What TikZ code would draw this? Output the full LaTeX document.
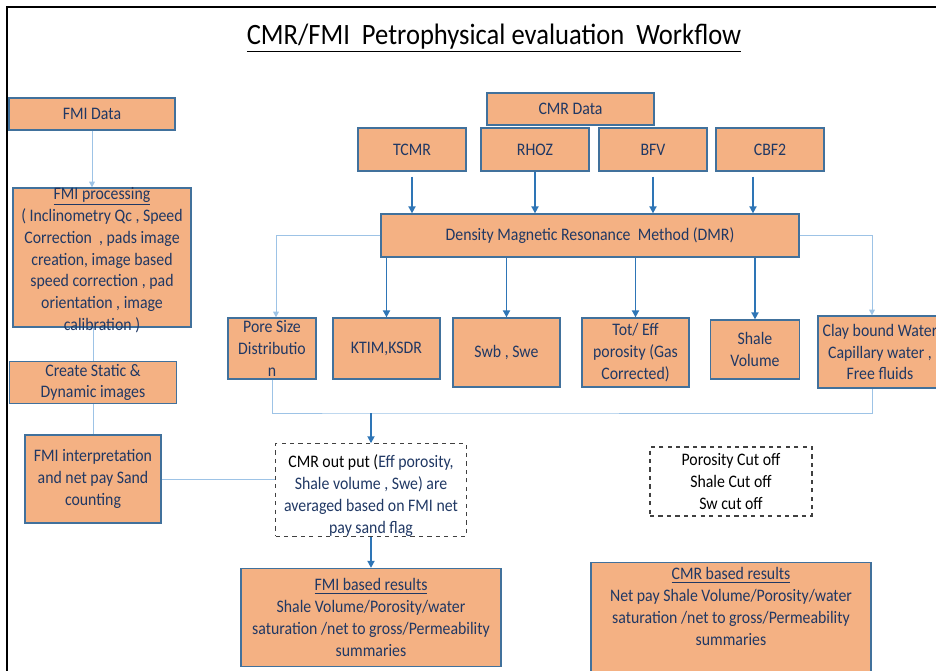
\documentclass[tikz,border=0pt]{standalone}
\usepackage{fontspec}
\setmainfont{Carlito}[FakeStretch=0.9]
\usetikzlibrary{arrows.meta}
\definecolor{boxfill}{RGB}{244,177,131}
\definecolor{boxline}{RGB}{65,113,156}
\definecolor{navytext}{RGB}{32,56,100}
\definecolor{linkblue}{RGB}{157,195,230}
\definecolor{flowblue}{RGB}{46,117,182}

\begin{document}
\begin{tikzpicture}[x=0.025cm, y=-0.025cm,
    boxsize/.style 2 args={minimum width=#1*0.025cm, minimum height=#2*0.025cm},
    box/.style={draw=boxline, fill=boxfill, line width=0.9pt, text=navytext, align=center,
        inner sep=0pt, font=\fontsize{12.5}{15.5}\selectfont},
    cutbox/.style={draw=black!75, dashed, line width=0.8pt, align=center, inner sep=0pt,
        text=navytext, font=\fontsize{12.5}{15.5}\selectfont},
    boxtext/.style={align=center, inner sep=0pt, text=navytext, font=\fontsize{12.5}{15.5}\selectfont},
    link/.style={draw=linkblue, line width=0.7pt},
    linkarrow/.style={link, -{Triangle[length=4pt,width=4pt]}},
    flow/.style={draw=flowblue, line width=1.3pt, -{Triangle[length=5pt,width=5pt]}}]

    \clip (0,0) rectangle (936,671);

    % Draw the frame and the title
    \draw[line width=1.5pt] (7,671) -- (7,7) -- (936,7);
    \node (title) at (494,38) {\fontsize{21}{25}\selectfont\underline{CMR/FMI\ \ Petrophysical evaluation\ \ Workflow}};

    % FMI column
    \node[box, boxsize={166}{32}] (fmidata) at (92,114) {FMI Data};
    \node[box, boxsize={178}{139}] (fmiproc) at (102,257.5) {};
    \node[boxtext, anchor=north] (fmiproctext) at (fmiproc.north) {\underline{FMI processing}\\( Inclinometry Qc , Speed\\Correction\ \ , pads image\\creation, image based\\speed correction , pad\\orientation , image\\calibration )};
    \node[box, boxsize={167}{42}] (createimg) at (93,382.5) {Create Static \&\\Dynamic images};
    \node[box, boxsize={136}{88}] (fmiinterp) at (93,479) {FMI interpretation\\and net pay Sand\\counting};

    % CMR data and its curves
    \node[box, boxsize={167}{32}] (cmrdata) at (570.5,109) {CMR Data};
    \node[box, boxsize={108}{43}] (tcmr) at (412,149.5) {TCMR};
    \node[box, boxsize={108}{43}] (rhoz) at (535,149.5) {RHOZ};
    \node[box, boxsize={108}{43}] (bfv) at (653,149.5) {BFV};
    \node[box, boxsize={108}{43}] (cbf2) at (770,149.5) {CBF2};
    \node[box, boxsize={418}{43}] (dmr) at (590,235.5) {Density Magnetic Resonance\ \ Method (DMR)};

    % DMR outputs
    \node[box, boxsize={88}{61}] (poresize) at (272,348.5) {Pore Size\\Distributio\\n};
    \node[box, boxsize={107}{61}] (ktim) at (386.5,348.5) {KTIM,KSDR};
    \node[box, boxsize={107}{69}] (swb) at (506.5,352.5) {Swb , Swe};
    \node[box, boxsize={107}{69}] (toteff) at (635.5,352.5) {Tot/ Eff\\porosity (Gas\\Corrected)};
    \node[box, boxsize={89}{59}] (shale) at (755,349.5) {Shale\\Volume};
    \node[box, boxsize={124}{72}] (clay) at (880,352) {Clay bound Water\\Capillary water ,\\Free fluids};

    % Averaging, cut offs and results
    \node[cutbox, boxsize={191}{88}] (cmrout) at (371,490) {\rule{0pt}{17pt}{\color{black}CMR out put (}Eff porosity,\\Shale volume , Swe) are\\averaged based on FMI net\\pay sand flag};
    \node[cutbox, boxsize={162}{69}, text=black] (cutoff) at (731,481.5) {Porosity Cut off\\Shale Cut off\\Sw cut off};
    \node[box, boxsize={260}{98}] (fmires) at (371,617.5) {\underline{FMI based results}\\Shale Volume/Porosity/water\\saturation /net to gross/Permeability\\summaries};
    \node[box, boxsize={280}{115}] (cmrres) at (731,620) {};
    \node[boxtext, anchor=north, yshift=-4pt] (cmrrestext) at (cmrres.north) {\underline{CMR based results}\\Net pay Shale Volume/Porosity/water\\saturation /net to gross/Permeability\\summaries};

    % Draw the FMI links
    \draw[linkarrow] (fmidata.south) -- (fmidata.south |- fmiproc.north);
    \draw[link] (createimg.north |- fmiproc.south) -- (createimg.north);
    \draw[link] (createimg.south) -- (fmiinterp.north);
    \draw[link] (fmiinterp.east) -- (fmiinterp.east -| cmrout.west);

    % Draw the CMR arrows
    \draw[flow, shorten <=3.5pt] (tcmr.south) -- (tcmr.south |- dmr.north);
    \draw[flow] (rhoz.south) -- (rhoz.south |- dmr.north);
    \draw[flow, shorten <=3.5pt] (bfv.south) -- (bfv.south |- dmr.north);
    \draw[flow, shorten <=3.5pt] ([xshift=-0.425cm]cbf2.south) -- ([xshift=-0.425cm]cbf2.south |- dmr.north);
    \draw[linkarrow] (dmr.west) -| ([xshift=0.1cm]poresize.north);
    \draw[linkarrow] (dmr.east) -| ([xshift=-0.2cm]clay.north);
    \draw[flow] (dmr.south -| ktim) -- (ktim.north);
    \draw[flow] (dmr.south -| swb) -- (swb.north);
    \draw[flow] (dmr.south -| toteff) -- (toteff.north);
    \draw[flow] (dmr.south -| shale) -- (shale.north);

    % Gather the outputs
    \coordinate (merge) at (371,413);
    \draw[link] (poresize.south) |- (merge) -| ([xshift=-0.2cm]clay.south);
    \draw[flow] (merge) -- (cmrout.north);
    \draw[flow] (cmrout.south) -- (fmires.north);

\end{tikzpicture}
\end{document}
